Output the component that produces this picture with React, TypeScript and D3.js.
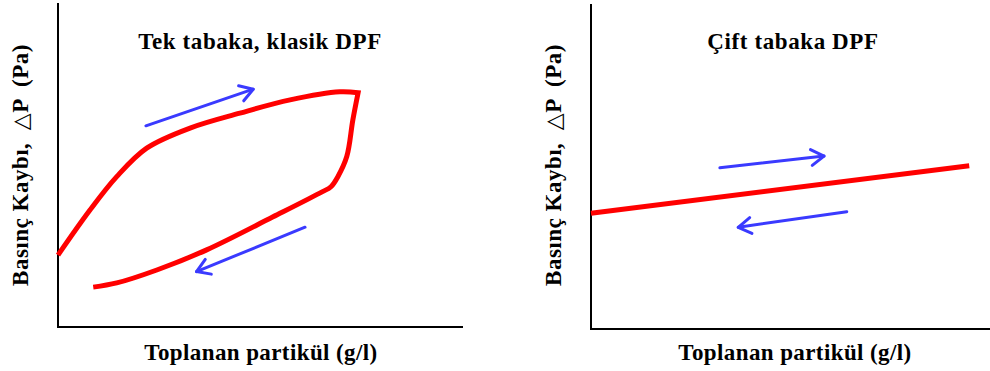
import React from "react";
import * as d3 from "d3";

// ---- Data (schematic units: 0..100 on both axes) ----
// Left panel: single-layer classic DPF – loading branch (upper) and regeneration branch (lower)
const singleLoadX = [0, 7.9, 14.5, 21.9, 32.6, 44.9, 57.3, 69.6, 74.1];
const singleLoadY = [22.2, 36.1, 46.4, 55.2, 61.4, 66.0, 70.1, 72.6, 72.3];
const singleRegenX = [74.1, 72.8, 71.3, 69.1, 67.4, 65.2, 53.1, 36.7, 24.4, 14.5, 8.7];
const singleRegenY = [72.3, 63.9, 52.6, 46.4, 43.3, 41.7, 34.0, 23.8, 17.6, 13.6, 12.3];
// Left panel arrows [x1, y1, x2, y2]
const singleArrowUp = [21.7, 62.1, 48.2, 73.4];
const singleArrowDown = [61.0, 30.8, 34.2, 17.1];

// Right panel: double-layer DPF
const doubleX = [0, 94.8];
const doubleY = [35.6, 50.2];
const doubleArrowUp = [32.3, 49.6, 58.4, 53.2];
const doubleArrowDown = [64.1, 36.1, 36.9, 31.3];

// Texts
const titles = ["Tek tabaka, klasik DPF", "Çift tabaka DPF"];
const xLabel = "Toplanan partikül (g/l)";
const yLabelParts = ["Basınç Kaybı,  ", "△", "P  (Pa)"];

const FONT = "'Liberation Serif', 'Times New Roman', serif";
const RED = "#ff0000";
const BLUE = "#3a3aff";

type Panel = {
  x0: number; x1: number; y0: number; y1: number;
  title: string; titleX: number; labelX: number; yLabelX: number;
};

const panels: Panel[] = [
  { x0: 58, x1: 463, y0: 327, y1: 3, title: titles[0], titleX: 260, labelX: 261, yLabelX: 28 },
  { x0: 591, x1: 990, y0: 329, y1: 4, title: titles[1], titleX: 793, labelX: 795, yLabelX: 561 },
];

function Arrow({ p, sx, sy }: { p: number[]; sx: d3.ScaleLinear<number, number>; sy: d3.ScaleLinear<number, number> }) {
  const x1 = sx(p[0]), y1 = sy(p[1]), x2 = sx(p[2]), y2 = sy(p[3]);
  const a = Math.atan2(y1 - y2, x1 - x2);
  const L = 15, w = (32 * Math.PI) / 180;
  const ax = x2 + L * Math.cos(a + w), ay = y2 + L * Math.sin(a + w);
  const bx = x2 + L * Math.cos(a - w), by = y2 + L * Math.sin(a - w);
  return (
    <g stroke={BLUE} strokeWidth={3} fill="none" strokeLinecap="round" strokeLinejoin="round">
      <line x1={x1} y1={y1} x2={x2} y2={y2} />
      <path d={`M${ax},${ay}L${x2},${y2}L${bx},${by}`} />
    </g>
  );
}

export default function App() {
  const [left, right] = panels;
  const lsx = d3.scaleLinear().domain([0, 100]).range([left.x0, left.x1]);
  const lsy = d3.scaleLinear().domain([0, 100]).range([left.y0, left.y1]);
  const rsx = d3.scaleLinear().domain([0, 100]).range([right.x0, right.x1]);
  const rsy = d3.scaleLinear().domain([0, 100]).range([right.y0, right.y1]);

  const mk = (xs: number[], ys: number[], sx: any, sy: any) =>
    d3
      .line<number>()
      .x((_, i) => sx(xs[i]))
      .y((_, i) => sy(ys[i]))
      .curve(d3.curveCatmullRom.alpha(0.5))(xs) as string;

  const loadPath = mk(singleLoadX, singleLoadY, lsx, lsy);
  const regenPath = mk(singleRegenX, singleRegenY, lsx, lsy);
  const dblPath = mk(doubleX, doubleY, rsx, rsy);

  return (
    <svg width={990} height={371} style={{ position: "absolute", left: 0, top: 0, background: "#fff" }}>
      <rect width={990} height={371} fill="#fff" />
      {panels.map((p, i) => (
        <g key={i}>
          <path d={`M${p.x0},${p.y1}V${p.y0}H${p.x1}`} stroke="#000" strokeWidth={2} fill="none" />
          <text x={p.titleX} y={49} textAnchor="middle" fontFamily={FONT} fontWeight="bold" fontSize={23} letterSpacing={0.6}>
            {p.title}
          </text>
          <text x={p.labelX} y={360} textAnchor="middle" fontFamily={FONT} fontWeight="bold" fontSize={23} letterSpacing={0.4}>
            {xLabel}
          </text>
          <text
            transform={`translate(${p.yLabelX},165) rotate(-90)`}
            textAnchor="middle"
            fontFamily={FONT}
            fontWeight="bold"
            fontSize={23}
            letterSpacing={0.5}
            style={{ whiteSpace: "pre" }}
          >
            <tspan>{yLabelParts[0]}</tspan>
            <tspan fontFamily="'DejaVu Sans', sans-serif" fontWeight="normal" fontSize={22}>{yLabelParts[1]}</tspan>
            <tspan>{yLabelParts[2]}</tspan>
          </text>
        </g>
      ))}
      <g stroke={RED} strokeWidth={5} fill="none" strokeLinejoin="miter">
        <path d={loadPath + regenPath.replace(/^M[^CL]*/, "")} strokeLinecap="butt" />
        <path d={dblPath} />
      </g>
      <Arrow p={singleArrowUp} sx={lsx} sy={lsy} />
      <Arrow p={singleArrowDown} sx={lsx} sy={lsy} />
      <Arrow p={doubleArrowUp} sx={rsx} sy={rsy} />
      <Arrow p={doubleArrowDown} sx={rsx} sy={rsy} />
    </svg>
  );
}
